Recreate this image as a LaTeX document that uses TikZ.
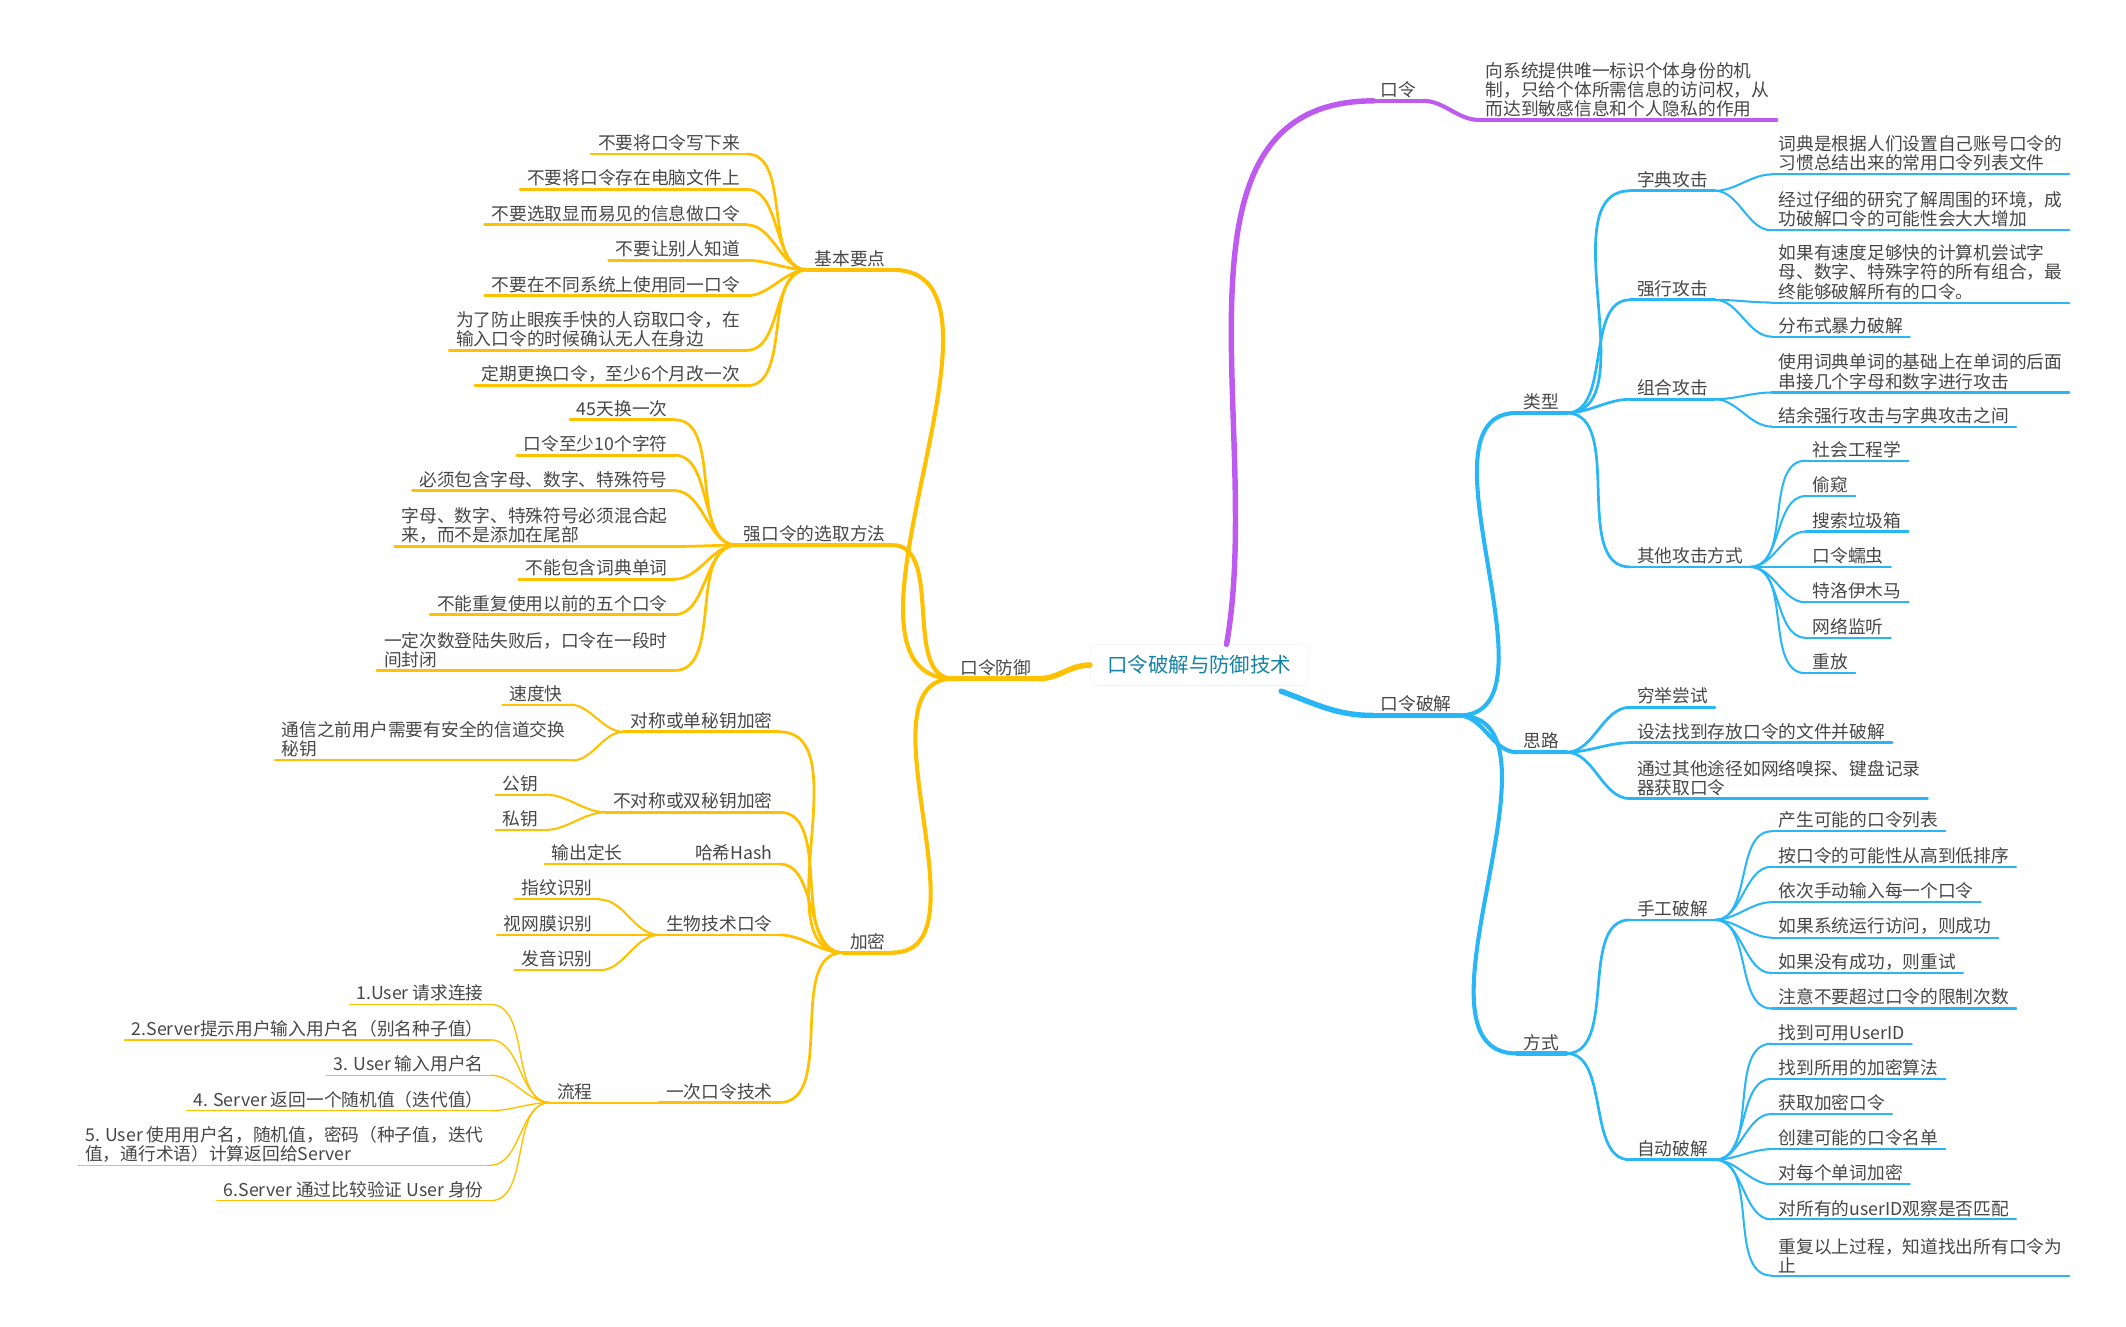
\documentclass[tikz,border=0pt]{standalone}
\usepackage{fontspec}
\setmainfont{Noto Sans CJK SC}
\definecolor{yel}{RGB}{255,192,0}
\definecolor{blu}{RGB}{41,182,246}
\definecolor{pur}{RGB}{190,90,240}
\definecolor{txt}{RGB}{70,70,70}
\tikzset{
  base/.style={inner xsep=5pt, inner ysep=2pt, align=left, text=txt,
    font=\fontsize{13}{14}\selectfont},
  r/.style 2 args={base, anchor=south west,
    append after command={(\tikzlastnode.south west) edge[draw=#1, line width=#2] (\tikzlastnode.south east)}},
  l/.style 2 args={base, anchor=south east,
    append after command={(\tikzlastnode.south west) edge[draw=#1, line width=#2] (\tikzlastnode.south east)}},
  rc/.style={out=0, in=180, looseness=0.9},
  lc/.style={out=180, in=0, looseness=0.9},
}
\begin{document}
\begin{tikzpicture}[x=1pt, y=-1pt, line cap=round]
  \useasboundingbox (0,0) rectangle (1560,973);

  % centre
  \node[draw=gray!10, fill=white, rounded corners=4pt, minimum width=160pt, minimum height=30pt,
    text={rgb,255:red,20;green,130;blue,165}, font=\fontsize{15}{17}\selectfont] (root) at (880,488) {口令破解与防御技术};

  % ---------- 口令 ----------
  \node[r={pur}{3pt}] (kl) at (1008,74) {口令};
  \node[r={pur}{3pt}] (kldef) at (1085,88) {向系统提供唯一标识个体身份的机\\制，只给个体所需信息的访问权，从\\而达到敏感信息和个人隐私的作用};
  \draw[pur, line width=4pt] (root.north) ++(20,0) to[out=80, in=180] (kl.south west);
  \draw[pur, line width=3pt] (kl.south east) to[rc] (kldef.south west);

  % ---------- 口令破解 ----------
  \node[r={blu}{4pt}] (pj) at (1008,525) {口令破解};
  \draw[blu, line width=4pt] (root.south) ++(60,4) to[out=-20, in=180] (pj.south west);

  \node[r={blu}{3pt}] (lx) at (1113,303) {类型};
  \node[r={blu}{3pt}] (sl) at (1113,552) {思路};
  \node[r={blu}{3pt}] (fs) at (1113,773) {方式};
  \foreach \c in {lx,sl,fs} \draw[blu, line width=3pt] (pj.south east) to[rc] (\c.south west);

  % 类型
  \node[r={blu}{2pt}] (zd) at (1196,140) {字典攻击};
  \node[r={blu}{2pt}] (qx) at (1196,220) {强行攻击};
  \node[r={blu}{2pt}] (zh) at (1196,293) {组合攻击};
  \node[r={blu}{2pt}] (qt) at (1196,416) {其他攻击方式};
  \foreach \c in {zd,qx,zh,qt} \draw[blu, line width=2pt] (lx.south east) to[rc] (\c.south west);

  \node[r={blu}{1.5pt}] (zd1) at (1300,128) {词典是根据人们设置自己账号口令的\\习惯总结出来的常用口令列表文件};
  \node[r={blu}{1.5pt}] (zd2) at (1300,169) {经过仔细的研究了解周围的环境，成\\功破解口令的可能性会大大增加};
  \foreach \c in {zd1,zd2} \draw[blu, line width=1.5pt] (zd.south east) to[rc] (\c.south west);

  \node[r={blu}{1.5pt}] (qx1) at (1300,222) {如果有速度足够快的计算机尝试字\\母、数字、特殊字符的所有组合，最\\终能够破解所有的口令。};
  \node[r={blu}{1.5pt}] (qx2) at (1300,247) {分布式暴力破解};
  \foreach \c in {qx1,qx2} \draw[blu, line width=1.5pt] (qx.south east) to[rc] (\c.south west);

  \node[r={blu}{1.5pt}] (zh1) at (1300,288) {使用词典单词的基础上在单词的后面\\串接几个字母和数字进行攻击};
  \node[r={blu}{1.5pt}] (zh2) at (1300,313) {结余强行攻击与字典攻击之间};
  \foreach \c in {zh1,zh2} \draw[blu, line width=1.5pt] (zh.south east) to[rc] (\c.south west);

  \foreach \t [count=\i] in {社会工程学,偷窥,搜索垃圾箱,口令蠕虫,特洛伊木马,网络监听,重放} {
    \node[r={blu}{1.5pt}] (qt\i) at (1325,312+26*\i) {\t};
    \draw[blu, line width=1.5pt] (qt.south east) to[rc] (qt\i.south west);
  }

  % 思路
  \node[r={blu}{2pt}] (sl1) at (1196,519) {穷举尝试};
  \node[r={blu}{2pt}] (sl2) at (1196,545) {设法找到存放口令的文件并破解};
  \node[r={blu}{2pt}] (sl3) at (1196,586) {通过其他途径如网络嗅探、键盘记录\\器获取口令};
  \foreach \c in {sl1,sl2,sl3} \draw[blu, line width=2pt] (sl.south east) to[rc] (\c.south west);

  % 方式
  \node[r={blu}{2pt}] (sg) at (1196,675) {手工破解};
  \node[r={blu}{2pt}] (zdp) at (1196,851) {自动破解};
  \foreach \c in {sg,zdp} \draw[blu, line width=2pt] (fs.south east) to[rc] (\c.south west);

  \foreach \t [count=\i] in {产生可能的口令列表,按口令的可能性从高到低排序,依次手动输入每一个口令,
      如果系统运行访问，则成功,如果没有成功，则重试,注意不要超过口令的限制次数} {
    \node[r={blu}{1.5pt}] (sg\i) at (1300,584+26*\i) {\t};
    \draw[blu, line width=1.5pt] (sg.south east) to[rc] (sg\i.south west);
  }
  \foreach \t [count=\i] in {找到可用UserID,找到所用的加密算法,获取加密口令,创建可能的口令名单,
      对每个单词加密,对所有的userID观察是否匹配} {
    \node[r={blu}{1.5pt}] (zdp\i) at (1300,740+25.8*\i) {\t};
    \draw[blu, line width=1.5pt] (zdp.south east) to[rc] (zdp\i.south west);
  }
  \node[r={blu}{1.5pt}] (zdp7) at (1300,936) {重复以上过程，知道找出所有口令为\\止};
  \draw[blu, line width=1.5pt] (zdp.south east) to[rc] (zdp7.south west);

  % ---------- 口令防御 ----------
  \node[l={yel}{4pt}] (fy) at (762,498) {口令防御};
  \draw[yel, line width=4pt] (root.west) to[out=180, in=0] (fy.south east);

  \node[l={yel}{3pt}] (jb) at (655,198) {基本要点};
  \node[l={yel}{3pt}] (qk) at (655,400) {强口令的选取方法};
  \node[l={yel}{3pt}] (jm) at (655,699) {加密};
  \foreach \c in {jb,qk,jm} \draw[yel, line width=3pt] (fy.south west) to[lc] (\c.south east);

  % 基本要点
  \foreach \t/\y [count=\i] in {不要将口令写下来/113,不要将口令存在电脑文件上/139,不要选取显而易见的信息做口令/165,
      不要让别人知道/191,不要在不同系统上使用同一口令/217} {
    \node[l={yel}{2pt}] (jb\i) at (548,\y) {\t};
    \draw[yel, line width=2pt] (jb.south west) to[lc] (jb\i.south east);
  }
  \node[l={yel}{2pt}] (jb6) at (548,257) {为了防止眼疾手快的人窃取口令，在\\输入口令的时候确认无人在身边};
  \node[l={yel}{2pt}] (jb7) at (548,283) {定期更换口令，至少6个月改一次};
  \foreach \c in {jb6,jb7} \draw[yel, line width=2pt] (jb.south west) to[lc] (\c.south east);

  % 强口令的选取方法
  \node[l={yel}{2pt}] (qk1) at (495,308) {45天换一次};
  \node[l={yel}{2pt}] (qk2) at (495,334) {口令至少10个字符};
  \node[l={yel}{2pt}] (qk3) at (495,360) {必须包含字母、数字、特殊符号};
  \node[l={yel}{2pt}] (qk4) at (495,401) {字母、数字、特殊符号必须混合起\\来，而不是添加在尾部};
  \node[l={yel}{2pt}] (qk5) at (495,425) {不能包含词典单词};
  \node[l={yel}{2pt}] (qk6) at (495,451) {不能重复使用以前的五个口令};
  \node[l={yel}{2pt}] (qk7) at (495,492) {一定次数登陆失败后，口令在一段时\\间封闭};
  \foreach \c in {qk1,qk2,qk3,qk4,qk5,qk6,qk7} \draw[yel, line width=2pt] (qk.south west) to[lc] (\c.south east);

  % 加密
  \node[l={yel}{2pt}] (dc) at (572,537) {对称或单秘钥加密};
  \node[l={yel}{2pt}] (fdc) at (572,596) {不对称或双秘钥加密};
  \node[l={yel}{2pt}] (hx) at (572,634) {哈希Hash};
  \node[l={yel}{2pt}] (sw) at (572,686) {生物技术口令};
  \node[l={yel}{2pt}] (yc) at (572,809) {一次口令技术};
  \foreach \c in {dc,fdc,hx,sw,yc} \draw[yel, line width=2pt] (jm.south west) to[lc] (\c.south east);

  \node[l={yel}{1.5pt}] (dc1) at (418,517) {速度快};
  \node[l={yel}{1.5pt}] (dc2) at (420,558) {通信之前用户需要有安全的信道交换\\秘钥};
  \foreach \c in {dc1,dc2} \draw[yel, line width=1.5pt] (dc.south west) to[lc] (\c.south east);

  \node[l={yel}{1.5pt}] (fdc1) at (400,583) {公钥};
  \node[l={yel}{1.5pt}] (fdc2) at (400,609) {私钥};
  \foreach \c in {fdc1,fdc2} \draw[yel, line width=1.5pt] (fdc.south west) to[lc] (\c.south east);

  \node[l={yel}{1.5pt}] (hx1) at (462,634) {输出定长};
  \draw[yel, line width=1.5pt] (hx.south west) to[lc] (hx1.south east);

  \node[l={yel}{1.5pt}] (sw1) at (440,660) {指纹识别};
  \node[l={yel}{1.5pt}] (sw2) at (440,686) {视网膜识别};
  \node[l={yel}{1.5pt}] (sw3) at (440,712) {发音识别};
  \foreach \c in {sw1,sw2,sw3} \draw[yel, line width=1.5pt] (sw.south west) to[lc] (\c.south east);

  \node[l={yel}{1.5pt}] (lc) at (440,809) {流程};
  \draw[yel, line width=1.5pt] (yc.south west) to[lc] (lc.south east);

  \node[l={yel}{1pt}] (lc1) at (360,737) {1.User 请求连接};
  \node[l={yel}{1pt}] (lc2) at (360,763) {2.Server提示用户输入用户名（别名种子值）};
  \node[l={yel}{1pt}] (lc3) at (360,789) {3. User 输入用户名};
  \node[l={yel}{1pt}] (lc4) at (360,815) {4. Server 返回一个随机值（迭代值）};
  \node[l={yel}{1pt}] (lc5) at (360,855) {5. User 使用用户名，随机值，密码（种子值，迭代\\值，通行术语）计算返回给Server};
  \node[l={yel}{1pt}] (lc6) at (360,881) {6.Server 通过比较验证 User 身份};
  \foreach \c in {lc1,lc2,lc3,lc4,lc5,lc6} \draw[yel, line width=1pt] (lc.south west) to[lc] (\c.south east);
\end{tikzpicture}
\end{document}
